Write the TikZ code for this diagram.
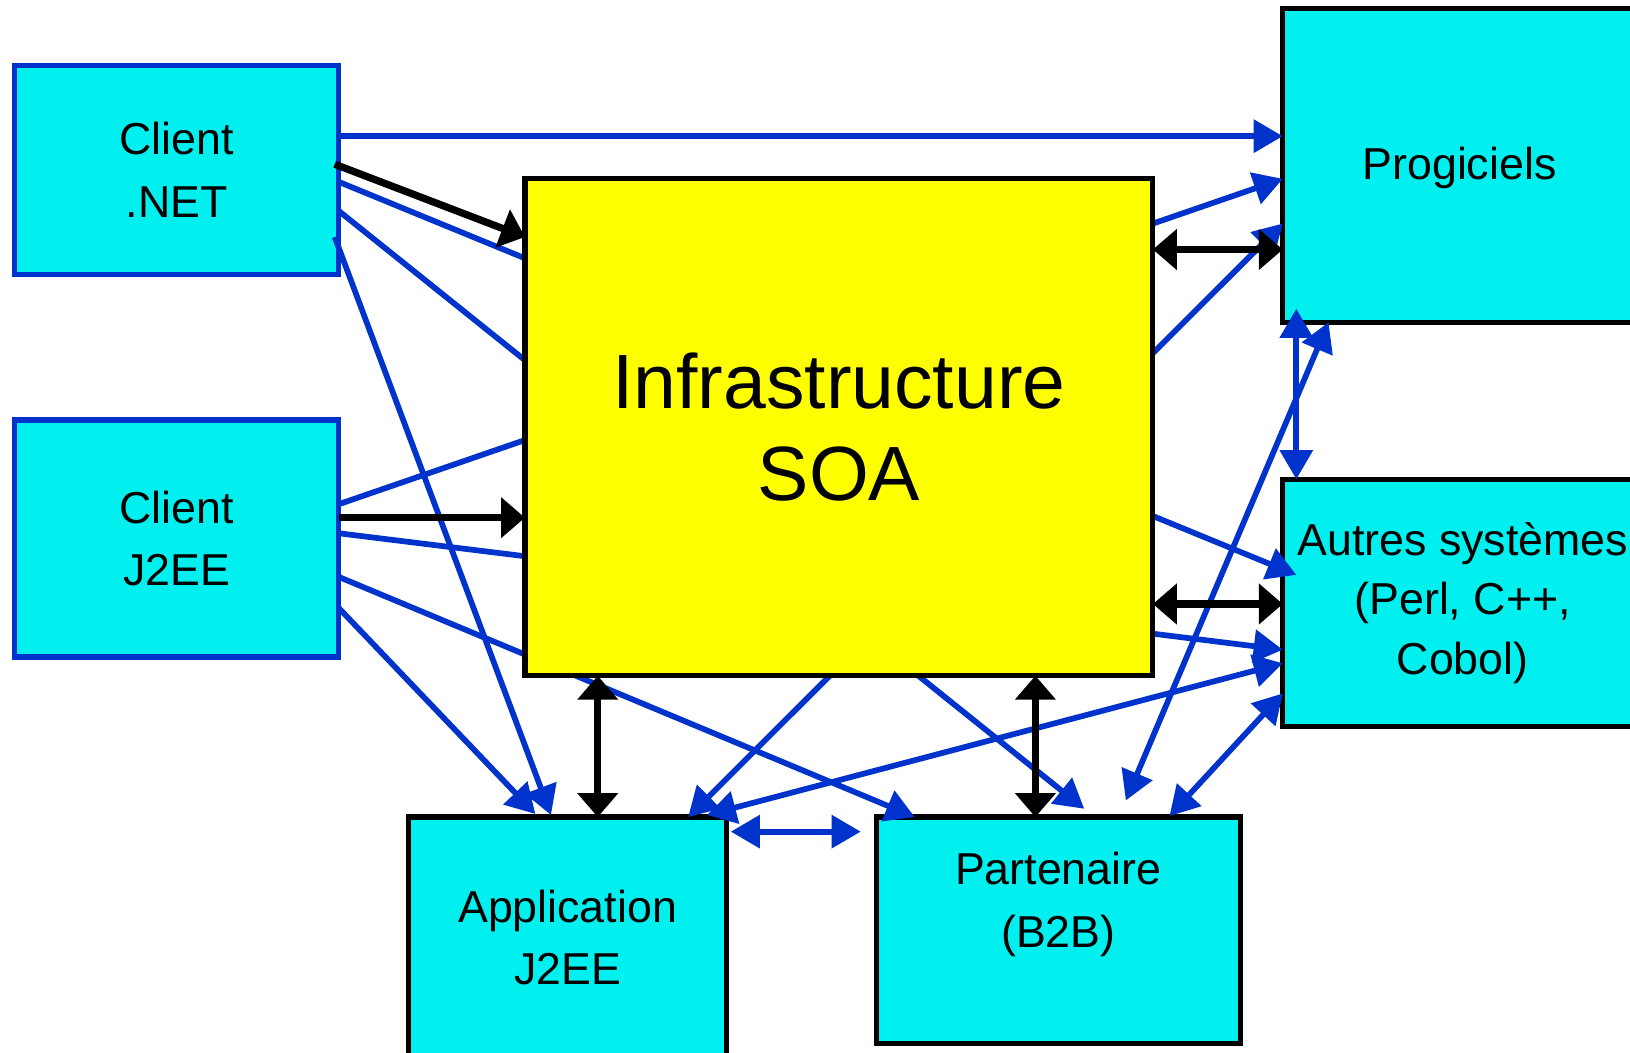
\documentclass[tikz,border=0pt]{standalone}
\usepackage{fontspec}
\setmainfont{Liberation Sans}
\usetikzlibrary{arrows.meta,calc}
\definecolor{cy}{RGB}{0,240,240}
\definecolor{bl}{RGB}{0,51,204}
\definecolor{yl}{RGB}{255,255,0}
\begin{document}
\begin{tikzpicture}[x=1pt,y=-1pt,
 box/.style={draw=black,line width=5pt,fill=cy,inner sep=0pt,outer sep=0pt,align=center,font=\fontsize{43}{60}\selectfont},
 cbox/.style={box,draw=bl},
 txt/.style={inner sep=0pt,align=center,font=\fontsize{43}{60}\selectfont},
 bcon/.style={draw=bl,line width=5.5pt},
 barr/.style={bcon,-{Triangle[length=28pt,width=31pt]}},
 bdbl/.style={bcon,{Triangle[length=28pt,width=31pt]}-{Triangle[length=28pt,width=31pt]}},
 karr/.style={draw=black,line width=7pt,-{Triangle[length=23pt,width=38pt]}},
 kdbl/.style={draw=black,line width=7pt,{Triangle[length=23pt,width=38pt]}-{Triangle[length=23pt,width=38pt]}},
]
\useasboundingbox (0,0) rectangle (1568,1012);
\clip (0,0) rectangle (1568,1012);
% boxes
\node[cbox,minimum width=312pt,minimum height=201pt] (net) at (170,163.5) {Client\\.NET};
\node[cbox,minimum width=312pt,minimum height=228pt] (j2c) at (170,518) {Client\\J2EE};
\node[box,minimum width=340pt,minimum height=302pt] (prog) at (1404,159) {};
\node[txt] (progt) at (1404,162) {Progiciels};
\node[box,minimum width=346pt,minimum height=238pt,font=\fontsize{43}{57}\selectfont] (autres) at (1407,580) {Autres systèmes\\(Perl, C++,\\Cobol)};
\node[box,minimum width=306pt,minimum height=232pt] (app) at (546,902) {Application\\J2EE};
\node[box,minimum width=350pt,minimum height=218pt] (b2b) at (1018,895) {};
\node[txt] (b2bt) at (1018,870) {Partenaire\\(B2B)};
% blue connectors
\draw[barr] (net.east |- 0,131) -- (prog.west |- 0,131);
\draw[barr] (net.east |- 0,175) -- ($(autres.west |- 0,553)+(13,0)$);
\draw[barr] (net.east |- 0,203) -- ($(b2b.north -| 1043,0)+(0,-8)$);
\draw[barr] ($(net.east |- 0,228)+(-4,0)$) -- ($(app.north -| 530,0)+(0,-2)$);
\draw[barr] (j2c.east |- 0,485) -- (prog.west |- 0,172);
\draw[barr] (j2c.east |- 0,513) -- (autres.west |- 0,625);
\draw[barr] (j2c.east |- 0,555) -- (b2b.north -| 880,0);
\draw[barr] (j2c.east |- 0,585) -- ($(app.north -| 515,0)+(0,-3)$);
\draw[bdbl] (app.north -| 662,0) -- (prog.west |- 0,215);
\draw[bdbl] ($(app.north -| 680,0)+(0,-2)$) -- (autres.west |- 0,638);
\draw[bdbl] ($(b2b.north -| 1083,0)+(0,-16)$) -- (prog.south -| 1278,0);
\draw[bdbl] ($(b2b.north -| 1125,0)+(0,-1)$) -- (autres.west |- 0,667);
\draw[bdbl] ($(app.east |- 0,800)+(4,0)$) -- ($(b2b.west |- 0,800)+(-15,0)$);
\draw[bdbl] ($(prog.south -| 1247,0)+(0,-13)$) -- (autres.north -| 1247,0);
% central box above the blue lines
\node[draw=black,line width=5pt,fill=yl,inner sep=0pt,outer sep=0pt,align=center,
      minimum width=604pt,minimum height=478pt,font=\fontsize{74}{88}\selectfont] (soa) at (807,411) {Infrastructure\\SOA};
% black connectors
\draw[karr] ($(net.east |- 0,158)+(-4,0)$) -- (soa.west |- 0,228);
\draw[karr] (j2c.east |- 0,498) -- (soa.west |- 0,498);
\draw[kdbl] (soa.east |- 0,240) -- (prog.west |- 0,240);
\draw[kdbl] (soa.east |- 0,581) -- (autres.west |- 0,581);
\draw[kdbl] (soa.south -| 575,0) -- (app.north -| 575,0);
\draw[kdbl] (soa.south -| 996,0) -- (b2b.north -| 996,0);
\end{tikzpicture}
\end{document}
